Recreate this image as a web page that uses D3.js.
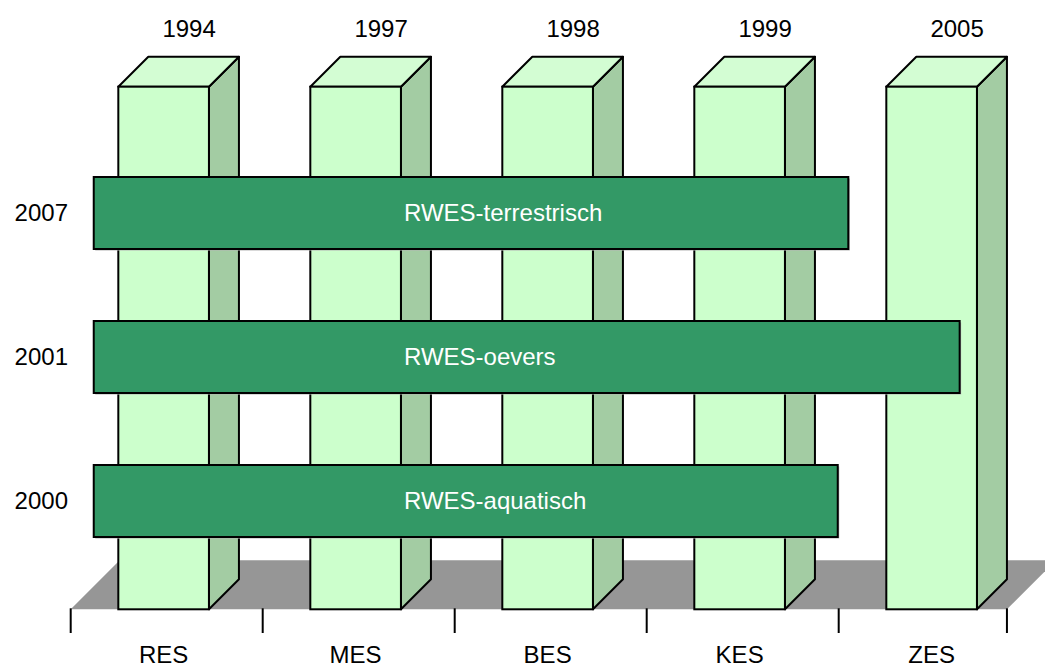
<!DOCTYPE html>
<html>
<head>
<meta charset="utf-8">
<script src="https://cdn.jsdelivr.net/npm/d3@7"></script>
<style>
  body { margin: 0; background: #fff; }
  svg { display: block; font-family: "Liberation Sans", Arial, sans-serif; }
</style>
</head>
<body>
<svg id="chart" width="1045" height="668"></svg>
<script>
// categories along the floor, with the year on top of each column
const categories = ["RES", "MES", "BES", "KES", "ZES"];
const columnYears = ["1994", "1997", "1998", "1999", "2005"];

// horizontal bars: year label, text, and start / end in category units
const rows = ["2007", "2001", "2000"];
const rowLabels = ["RWES-terrestrisch", "RWES-oevers", "RWES-aquatisch"];
const rowStart = 0.12;
const rowEnds = [4.05, 4.63, 3.995];

const width = 1045, height = 668;
const depth = 30;       // column 3d offset
const floorDepth = 49;  // floor 3d offset
const colTop = 86.7, floorY = 609.3;

const svg = d3.select('#chart');

// category axis in "category units"
const xScale = d3.scaleLinear()
  .domain([0, categories.length])
  .range([70.7, 1030.7]);

const yScale = d3.scaleBand()
  .domain(rows)
  .range([141, 573])
  .paddingInner(0.5)
  .paddingOuter(0.25);

const frontL = i => xScale(i + 0.248);
const frontR = i => xScale(i + 0.72);
const floorRight = frontR(categories.length - 1) + depth;

// floor
svg.append('polygon')
  .attr('points', [
    [xScale(0), floorY],
    [floorRight, floorY],
    [floorRight + floorDepth, floorY - floorDepth],
    [xScale(0) + floorDepth, floorY - floorDepth]
  ].map(p => p.join(',')).join(' '))
  .style('fill', '#969696');

// columns
const cols = svg.selectAll('.col')
  .data(categories)
  .enter()
  .append('g')
  .attr('class', 'col');

cols.append('polygon')
  .attr('points', (d, i) => [
    [frontR(i), colTop],
    [frontR(i) + depth, colTop - depth],
    [frontR(i) + depth, floorY - depth],
    [frontR(i), floorY]
  ].map(p => p.join(',')).join(' '))
  .style('fill', '#a3cca3')
  .style('stroke', '#000')
  .style('stroke-width', 2)
  .style('stroke-linejoin', 'round');

cols.append('polygon')
  .attr('points', (d, i) => [
    [frontL(i), colTop],
    [frontL(i) + depth, colTop - depth],
    [frontR(i) + depth, colTop - depth],
    [frontR(i), colTop]
  ].map(p => p.join(',')).join(' '))
  .style('fill', '#d3fdd3')
  .style('stroke', '#000')
  .style('stroke-width', 2)
  .style('stroke-linejoin', 'round');

cols.append('rect')
  .attr('x', (d, i) => frontL(i))
  .attr('y', colTop)
  .attr('width', (d, i) => frontR(i) - frontL(i))
  .attr('height', floorY - colTop)
  .style('fill', '#ccffcc')
  .style('stroke', '#000')
  .style('stroke-width', 2);

// year labels above the columns
svg.selectAll('.colyear')
  .data(columnYears)
  .enter()
  .append('text')
  .attr('class', 'colyear')
  .attr('x', (d, i) => (frontL(i) + frontR(i)) / 2 + 25.5)
  .attr('y', 37)
  .style('text-anchor', 'middle')
  .style('font-size', '24px')
  .text(d => d);

// horizontal bars
const bars = svg.selectAll('.bar')
  .data(rows)
  .enter()
  .append('g')
  .attr('class', 'bar');

bars.append('rect')
  .attr('x', xScale(rowStart) + 1.5)
  .attr('y', d => yScale(d) + 1.5)
  .attr('width', (d, i) => xScale(rowEnds[i]) - xScale(rowStart))
  .attr('height', yScale.bandwidth())
  .style('fill', '#b4b4b4');

bars.append('rect')
  .attr('x', xScale(rowStart))
  .attr('y', d => yScale(d))
  .attr('width', (d, i) => xScale(rowEnds[i]) - xScale(rowStart))
  .attr('height', yScale.bandwidth())
  .style('fill', '#339966')
  .style('stroke', '#000')
  .style('stroke-width', 2);

bars.append('text')
  .attr('x', 404)
  .attr('y', d => yScale(d) + yScale.bandwidth() / 2)
  .attr('dy', '.35em')
  .style('fill', '#fff')
  .style('font-size', '24px')
  .text((d, i) => rowLabels[i]);

// row years on the left
svg.selectAll('.rowyear')
  .data(rows)
  .enter()
  .append('text')
  .attr('class', 'rowyear')
  .attr('x', 68)
  .attr('y', d => yScale(d) + yScale.bandwidth() / 2)
  .attr('dy', '.35em')
  .style('text-anchor', 'end')
  .style('font-size', '24px')
  .text(d => d);

// ticks under the floor
const ticks = d3.range(categories.length).map(i => xScale(i)).concat([floorRight]);
svg.selectAll('.tick')
  .data(ticks)
  .enter()
  .append('line')
  .attr('x1', d => d)
  .attr('x2', d => d)
  .attr('y1', floorY - 1)
  .attr('y2', 633)
  .style('stroke', '#000')
  .style('stroke-width', 2);

// category labels
svg.selectAll('.catlabel')
  .data(categories)
  .enter()
  .append('text')
  .attr('class', 'catlabel')
  .attr('x', (d, i) => (frontL(i) + frontR(i)) / 2)
  .attr('y', 662.5)
  .style('text-anchor', 'middle')
  .style('font-size', '24px')
  .text(d => d);
</script>
</body>
</html>
